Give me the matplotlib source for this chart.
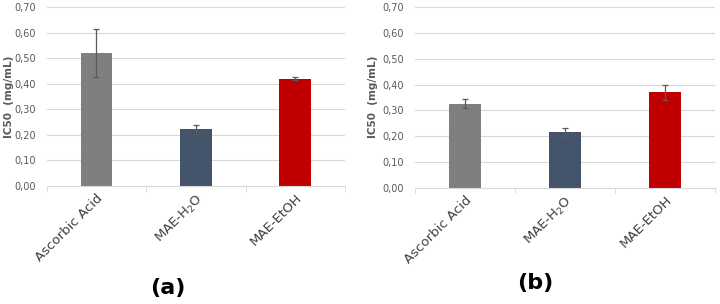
import matplotlib.pyplot as plt

plt.rcParams['font.family'] = ['DejaVu Sans']

categorias = ['Ascorbic Acid', 'MAE-H$_2$O', 'MAE-EtOH']
cores = ['#7f7f7f', '#44546a', '#c00000']

ic50_a = [0.52, 0.222, 0.42]
erro_a = [0.095, 0.017, 0.006]

ic50_b = [0.325, 0.215, 0.37]
erro_b = [0.017, 0.016, 0.030]

paineis = ['(a)', '(b)']

fig = plt.figure(figsize=(7.2, 3.04), dpi=100)
ax1 = fig.add_axes([0.065, 0.388, 0.414, 0.589])
ax2 = fig.add_axes([0.576, 0.382, 0.417, 0.595])

# posicoes (x do rotulo y, x e y do rotulo do painel) em fracao da figura
extras = [(0.012, 0.233, 0.053), (0.518, 0.743, 0.069)]

for ax, valores, erros, nome, (xl, xp, yp) in [
        (ax1, ic50_a, erro_a, paineis[0], extras[0]),
        (ax2, ic50_b, erro_b, paineis[1], extras[1])]:
    x = range(len(categorias))
    ax.bar(x, valores, width=0.32, color=cores, zorder=2,
           yerr=erros, error_kw=dict(ecolor='#595959', elinewidth=0.9,
                                     capsize=2, capthick=0.9, zorder=3))
    ax.set_xlim(-0.5, 2.5)
    ax.set_ylim(0, 0.70)
    ax.set_yticks([i / 10 for i in range(8)])
    ax.set_yticklabels([f'{i / 10:.2f}'.replace('.', ',') for i in range(8)],
                       fontsize=7, color='#595959')
    ax.grid(axis='y', color='#d9d9d9', linewidth=0.8, zorder=0)
    for lado in ['top', 'right', 'left']:
        ax.spines[lado].set_visible(False)
    ax.spines['bottom'].set_color('#d9d9d9')
    ax.tick_params(axis='y', length=0, pad=8)
    ax.set_xticks(list(x))
    ax.set_xticklabels(categorias, rotation=45, ha='right',
                       rotation_mode='anchor', fontsize=9.5, color='#404040')
    ax.tick_params(axis='x', which='major', length=0, pad=4)
    ax.set_xticks([-0.5, 0.5, 1.5, 2.5], minor=True)
    ax.tick_params(axis='x', which='minor', length=4, color='#d9d9d9')
    fig.text(xl, 0.68, 'IC50  (mg/mL)', rotation=90, ha='center', va='center',
             fontsize=7.5, fontweight='bold', color='#595959')
    fig.text(xp, yp, nome, ha='center', va='center',
             fontsize=16, fontweight='bold')

fig.savefig('out.png', dpi=100)
